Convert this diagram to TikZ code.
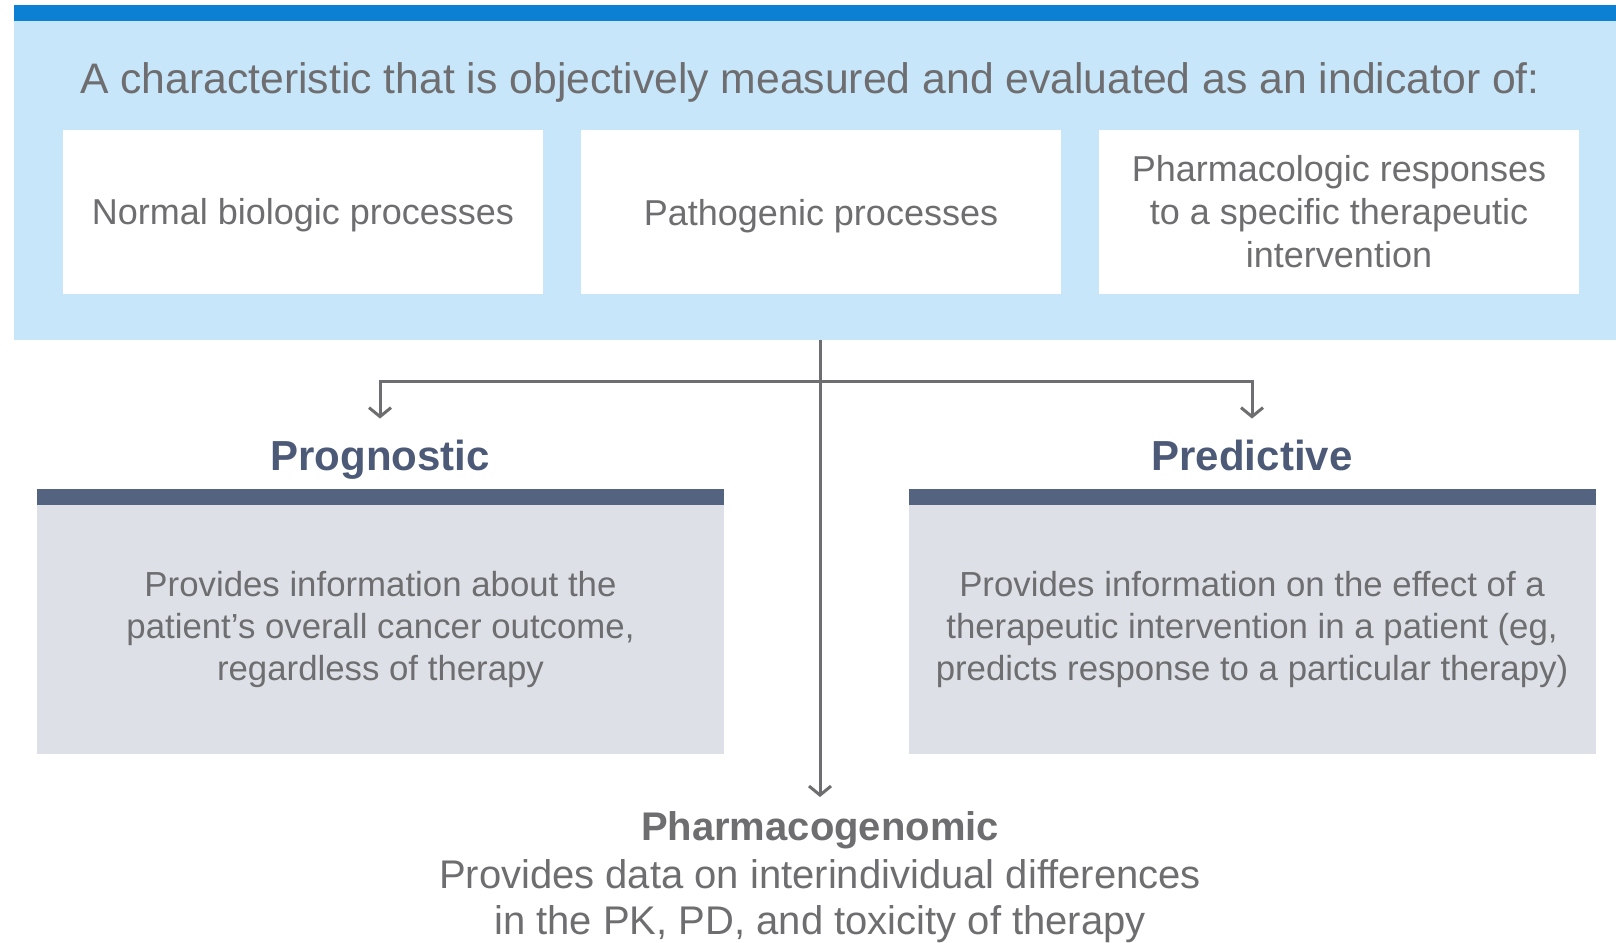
\documentclass[tikz,border=0pt]{standalone}
\usepackage{fontspec}
\setmainfont{Liberation Sans}
\usetikzlibrary{arrows.meta,positioning}

\definecolor{topblue}{RGB}{12,128,210}
\definecolor{paleblue}{RGB}{200,230,249}
\definecolor{txtgray}{RGB}{110,110,112}
\definecolor{slate}{RGB}{76,90,120}
\definecolor{slatebar}{RGB}{83,99,128}
\definecolor{boxgray}{RGB}{221,225,231}

\begin{document}
\begin{tikzpicture}[x=1pt, y=-1pt, >={Straight Barb[length=9pt, width=22pt]},
  every node/.style={outer sep=0pt, text=txtgray},
  whitebox/.style={fill=white, minimum width=480pt, minimum height=164pt,
    inner sep=0pt, align=center, font=\fontsize{36}{43}\selectfont},
  graybox/.style={fill=boxgray, minimum width=687pt, minimum height=249pt,
    inner sep=0pt, align=center, font=\fontsize{34.8}{42}\selectfont},
  topbar/.style={fill=slatebar, minimum width=687pt, minimum height=16pt, inner sep=0pt},
  head/.style={font=\fontsize{42}{48}\selectfont\bfseries, text=slate,
    anchor=base, inner xsep=0pt, inner ysep=21pt},
  link/.style={draw=txtgray, line width=3pt}]
  \useasboundingbox (0,0) rectangle (1616,942);

  % top band with the definition
  \fill[topblue] (14,5) rectangle (1616,21);
  \node[fill=paleblue, minimum width=1602pt, minimum height=319pt, inner sep=0pt]
    (panel) at (815,180.5) {};
  \node[anchor=base, font=\fontsize{42.7}{48}\selectfont] (title) at (810,93)
    {A characteristic that is objectively measured and evaluated as an indicator of:};
  \node[whitebox, text depth=0pt] (normal) at (303,211.5) {Normal biologic processes};
  \node[whitebox, text depth=0pt] (patho) at (821,212) {Pathogenic processes};
  \node[whitebox] (pharma) at (1339,211.5)
    {Pharmacologic responses\\to a specific therapeutic\\intervention};

  % the two biomarker boxes
  \node[graybox] (progbox) at (380.5,629.5)
    {Provides information about the\\patient’s overall cancer outcome,\\regardless of therapy};
  \node[topbar, above=0pt of progbox] (progbar) {};
  \node[head] (prog) at (380,470) {Prognostic};

  \node[graybox] (predbox) at (1252,629.5)
    {Provides information on the effect of a\\therapeutic intervention in a patient (eg,\\predicts response to a particular therapy)};
  \node[topbar, above=0pt of predbox] (predbar) {};
  \node[head] (pred) at (1252,470) {Predictive};

  % pharmacogenomic text at the bottom
  \node[anchor=base, font=\fontsize{40}{46}\selectfont\bfseries, inner xsep=0pt,
    inner ysep=14pt] (pgx) at (820,840) {Pharmacogenomic};
  \node[align=center, font=\fontsize{40}{46}\selectfont, inner sep=0pt] (pgxtext)
    at (820,901) {Provides data on interindividual differences\\in the PK, PD, and toxicity of therapy};

  % connectors
  \coordinate (fork) at (820,381);
  \draw[link, ->] (panel.south -| pgx) -- (pgx.north);
  \draw[link, ->] (fork) -| (prog.north);
  \draw[link, ->] (fork) -| (pred.north);
\end{tikzpicture}
\end{document}
